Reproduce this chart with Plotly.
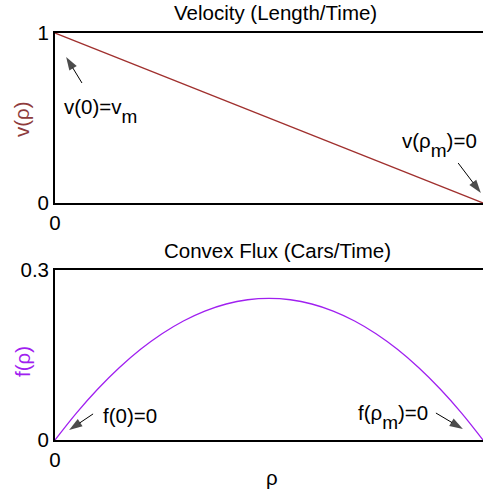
import plotly.graph_objects as go

# ---- data ----
rho_v = [0.0, 0.25, 0.5, 0.75, 1.0]
vel = [1.0, 0.75, 0.5, 0.25, 0.0]

rho_f = [0.0, 0.05, 0.1, 0.15, 0.2, 0.25, 0.3, 0.35, 0.4, 0.45, 0.5,
         0.55, 0.6, 0.65, 0.7, 0.75, 0.8, 0.85, 0.9, 0.95, 1.0]
flux = [0.0, 0.0475, 0.09, 0.1275, 0.16, 0.1875, 0.21, 0.2275, 0.24, 0.2475, 0.25,
        0.2475, 0.24, 0.2275, 0.21, 0.1875, 0.16, 0.1275, 0.09, 0.0475, 0.0]

x_ticks = [0, 1]
x_ticktext = ["0", "1"]
v_ticks = [0, 1]
v_ticktext = ["0", "1"]
f_ticks = [0, 0.3]
f_ticktext = ["0", "0.3"]

# arrow (tail -> head) positions in data units
arr_v0_x = [0.063, 0.026]
arr_v0_y = [0.706, 0.859]
arr_vm_x = [0.942, 0.995]
arr_vm_y = [0.235, 0.059]
arr_f0_x = [0.089, 0.033]
arr_f0_y = [0.046, 0.0176]
arr_fm_x = [0.890, 0.953]
arr_fm_y = [0.0476, 0.0194]

BROWN = "#a0302e"
PURPLE = "#a020f0"
FONT = "Liberation Sans, Arial, sans-serif"
FS = 20.5

W, H = 483, 492

def px(y):
    return 1 - y / H

fig = go.Figure()
fig.add_trace(go.Scatter(x=rho_v, y=vel, mode="lines",
                         line=dict(color=BROWN, width=1.3),
                         xaxis="x", yaxis="y", showlegend=False, cliponaxis=False))
fig.add_trace(go.Scatter(x=rho_f, y=flux, mode="lines", line_shape="spline",
                         line=dict(color=PURPLE, width=1.3),
                         xaxis="x2", yaxis="y2", showlegend=False, cliponaxis=False))

def add_arrow(xs, ys, xa, ya):
    fig.add_trace(go.Scatter(x=xs, y=ys, mode="lines+markers", xaxis=xa, yaxis=ya,
                             line=dict(color="black", width=1),
                             marker=dict(symbol="arrow", angleref="previous",
                                         size=[0, 14], color="black",
                                         line=dict(width=0)),
                             showlegend=False, cliponaxis=False, hoverinfo="skip"))

add_arrow(arr_v0_x, arr_v0_y, "x", "y")
add_arrow(arr_vm_x, arr_vm_y, "x", "y")
add_arrow(arr_f0_x, arr_f0_y, "x2", "y2")
add_arrow(arr_fm_x, arr_fm_y, "x2", "y2")

axis_common = dict(showline=True, linecolor="black", linewidth=1.8,
                   ticks="inside", ticklen=4, tickcolor="black", tickwidth=1,
                   showgrid=False, zeroline=False, automargin=False,
                   tickfont=dict(family=FONT, size=FS, color="black"))

xdom = [55 / W, 1.0]
fig.update_layout(
    template="none",
    width=W, height=H,
    margin=dict(l=0, r=0, t=0, b=0, pad=0),
    paper_bgcolor="white", plot_bgcolor="white",
    font=dict(family=FONT, size=FS, color="black"),
    xaxis=dict(domain=xdom, range=[0, 1], tickvals=x_ticks, ticktext=x_ticktext,
               anchor="y", mirror=True, **axis_common),
    yaxis=dict(domain=[px(203), px(33)], range=[0, 1], tickvals=v_ticks,
               ticktext=v_ticktext, anchor="x", mirror=False, **axis_common),
    xaxis2=dict(domain=xdom, range=[0, 1], tickvals=x_ticks, ticktext=x_ticktext,
                anchor="y2", mirror=True, **axis_common),
    yaxis2=dict(domain=[px(440), px(270)], range=[0, 0.3], tickvals=f_ticks,
                ticktext=f_ticktext, anchor="x2", mirror=False, **axis_common),
)

SUB = '<span style="font-size:19px;baseline-shift:-9px">m</span>'

ann = []
# titles
ann.append(dict(text="Velocity (Length/Time)", x=275.5 / W, y=px(13), xref="paper", yref="paper",
                showarrow=False, xanchor="center", yanchor="middle"))
ann.append(dict(text="Convex Flux (Cars/Time)", x=277 / W, y=px(250), xref="paper", yref="paper",
                showarrow=False, xanchor="center", yanchor="middle"))
# axis labels
ann.append(dict(text="v(ρ)", x=21 / W, y=px(119), xref="paper", yref="paper", textangle=-90,
                showarrow=False, xanchor="center", yanchor="middle",
                font=dict(color="#8e3b3b")))
ann.append(dict(text="f(ρ)", x=22 / W, y=px(362), xref="paper", yref="paper", textangle=-90,
                showarrow=False, xanchor="center", yanchor="middle",
                font=dict(color=PURPLE)))
ann.append(dict(text="ρ", x=272 / W, y=px(477), xref="paper", yref="paper",
                showarrow=False, xanchor="center", yanchor="middle"))

# point labels
ann.append(dict(text="v(0)=v" + SUB, x=62 / W, y=px(111), xref="paper", yref="paper",
                showarrow=False, xanchor="left", yanchor="middle"))
ann.append(dict(text="v(ρ" + SUB + ")=0", x=400 / W, y=px(145), xref="paper", yref="paper",
                showarrow=False, xanchor="left", yanchor="middle"))
ann.append(dict(text="f(0)=0", x=101 / W, y=px(415), xref="paper", yref="paper",
                showarrow=False, xanchor="left", yanchor="middle"))
ann.append(dict(text="f(ρ" + SUB + ")=0", x=356 / W, y=px(417), xref="paper", yref="paper",
                showarrow=False, xanchor="left", yanchor="middle"))

fig.update_layout(annotations=ann)
fig.write_html("out.html", config={"displayModeBar": False},
               post_script="document.body.style.margin='0px';")
